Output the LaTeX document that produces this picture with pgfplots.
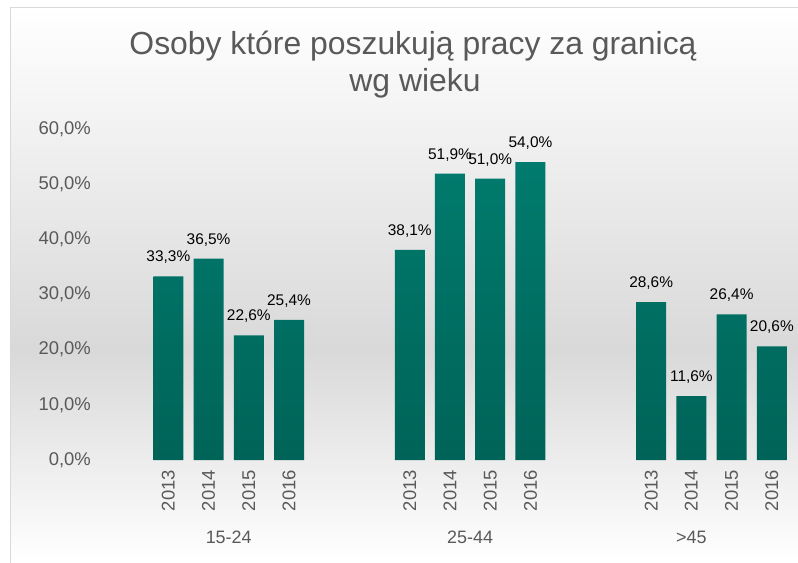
\documentclass[border=0pt]{standalone}
\usepackage{pgfplots}
\pgfplotsset{compat=1.18}
\usepackage{fontspec}
\setmainfont{Liberation Sans}
\definecolor{txtgray}{RGB}{89,89,89}
\definecolor{bartop}{RGB}{0,123,109}
\definecolor{barbot}{RGB}{0,99,88}
\pgfplotsset{/pgf/number format/assume math mode=true}
\begin{document}
\begin{tikzpicture}
\useasboundingbox (0,0) rectangle (798bp,563bp);
\fill[white] (0,0) rectangle (798bp,563bp);
\shade[top color=white, bottom color=black!15] (10bp,213bp) rectangle (798bp,556bp);
\shade[top color=black!15, bottom color=white] (10bp,0bp) rectangle (798bp,213bp);
\draw[black!15, line width=1bp] (10.5bp,0bp) -- (10.5bp,555.5bp) -- (798bp,555.5bp);
\node[anchor=base, font=\fontsize{32}{37}\selectfont, text=txtgray, inner sep=0pt] at (413bp,508bp) {Osoby które poszukują pracy za granicą};
\node[anchor=base, font=\fontsize{32}{37}\selectfont, text=txtgray, inner sep=0pt] at (415bp,471bp) {wg wieku};
\begin{axis}[
  at={(108bp,103bp)}, anchor=south west,
  scale only axis, width=690bp, height=331bp,
  xmin=-1.5, xmax=15.65, ymin=0, ymax=60,
  ybar, bar width=30bp,
  axis line style={draw=none}, major tick length=0pt,
  ytick={0,10,20,30,40,50,60},
  yticklabel={\pgfmathprintnumber[fixed,fixed zerofill,precision=1,use comma]{\tick}\%},
  yticklabel style={font=\fontsize{18.5}{22}\selectfont, text=txtgray, anchor=east, inner sep=0pt, xshift=-17bp},
  xtick={0,1,2,3,6,7,8,9,12,13,14,15},
  xticklabels={2013,2014,2015,2016,2013,2014,2015,2016,2013,2014,2015,2016},
  xticklabel style={rotate=90, anchor=east, inner sep=0pt, xshift=-10bp, font=\fontsize{18.5}{22}\selectfont, text=txtgray},
  nodes near coords={\pgfmathprintnumber[fixed,fixed zerofill,precision=1,use comma]{\pgfplotspointmeta}\%},
  nodes near coords style={font=\fontsize{15.5}{18}\selectfont, text=black, anchor=center, inner sep=0pt, yshift=19bp},
  clip=false,
]
\addplot[draw=none, top color=bartop, bottom color=barbot] coordinates {
  (0,33.3) (1,36.5) (2,22.6) (3,25.4)
  (6,38.1) (7,51.9) (8,51.0) (9,54.0)
  (12,28.6) (13,11.6) (14,26.4) (15,20.6)
};
\node[anchor=base, font=\fontsize{18}{22}\selectfont, text=txtgray, inner sep=0pt] at (axis cs:1.5,0) [yshift=-83bp] {15-24};
\node[anchor=base, font=\fontsize{18}{22}\selectfont, text=txtgray, inner sep=0pt] at (axis cs:7.5,0) [yshift=-83bp] {25-44};
\node[anchor=base, font=\fontsize{18}{22}\selectfont, text=txtgray, inner sep=0pt] at (axis cs:13.0,0) [yshift=-83bp] {>45};
\end{axis}
\end{tikzpicture}
\end{document}
